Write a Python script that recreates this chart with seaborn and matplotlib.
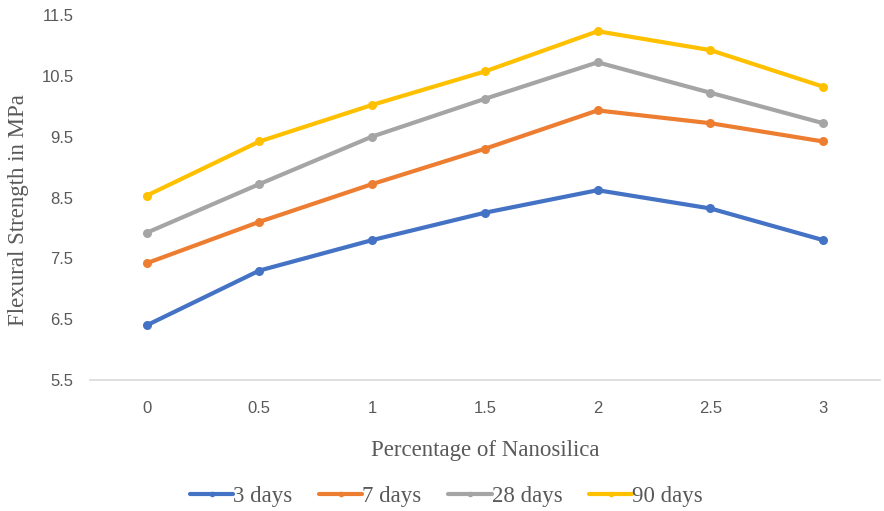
import matplotlib
matplotlib.use("Agg")
import matplotlib.pyplot as plt
import seaborn as sns
import pandas as pd

x_vals = [0, 0.5, 1, 1.5, 2, 2.5, 3]
x_labels = ["0", "0.5", "1", "1.5", "2", "2.5", "3"]
s3 = [6.4, 7.3, 7.8, 8.25, 8.62, 8.32, 7.8]
s7 = [7.42, 8.1, 8.72, 9.3, 9.93, 9.72, 9.42]
s28 = [7.92, 8.72, 9.5, 10.12, 10.72, 10.22, 9.72]
s90 = [8.53, 9.42, 10.02, 10.57, 11.23, 10.92, 10.32]
series_names = ["3 days", "7 days", "28 days", "90 days"]
colors = ["#4472C4", "#ED7D31", "#A5A5A5", "#FFC000"]
y_ticks = [5.5, 6.5, 7.5, 8.5, 9.5, 10.5, 11.5]

rows = []
for name, vals in zip(series_names, [s3, s7, s28, s90]):
    for xv, yv in zip(x_vals, vals):
        rows.append({"x": xv, "y": yv, "series": name})
df = pd.DataFrame(rows)

sns.set_theme(style="white")
plt.rcParams['font.family'] = ['DejaVu Sans']

fig = plt.figure(figsize=(8.84, 5.11), dpi=100)
ax = fig.add_axes([0.102, 0.256, 0.893, 0.715])

sns.lineplot(data=df, x="x", y="y", hue="series", palette=colors,
             hue_order=series_names, marker="o", markersize=6.5,
             markeredgewidth=0, linewidth=3, ax=ax, legend=True)

ax.set_xlim(-0.25, 3.25)
ax.set_ylim(5.5, 11.5)
ax.set_yticks(y_ticks)
ax.set_yticklabels([str(v) for v in y_ticks])
ax.set_xticks(x_vals)
ax.set_xticklabels(x_labels)

tick_font = ['Liberation Sans', 'DejaVu Sans']
for lab in ax.get_xticklabels() + ax.get_yticklabels():
    lab.set_family(tick_font)
    lab.set_fontsize(12)
    lab.set_color("#595959")
ax.tick_params(axis='both', length=0)
ax.tick_params(axis='x', pad=15)
ax.tick_params(axis='y', pad=12)

for side in ["top", "right", "left"]:
    ax.spines[side].set_visible(False)
ax.spines["bottom"].set_color("#D9D9D9")
ax.spines["bottom"].set_linewidth(1.2)

ax.set_xlabel("Percentage of Nanosilica", family=['Liberation Serif'],
              fontsize=16.5, color="#595959")
ax.set_ylabel("Flexural Strength in MPa", family=['Liberation Serif'],
              fontsize=16.5, color="#595959")
ax.xaxis.set_label_coords(0.5, -0.165)
ax.yaxis.set_label_coords(-0.078, 0.465)

handles, labels = ax.get_legend_handles_labels()
ax.legend_.remove()
leg = fig.legend(handles, labels, loc="center", bbox_to_anchor=(0.505, 0.028),
                 ncol=4, frameon=False, handlelength=1.9, handletextpad=0.0,
                 columnspacing=1.15, prop={'family': 'Liberation Serif', 'size': 16.5})
for h in leg.legend_handles:
    h.set_markersize(4)
for t in leg.get_texts():
    t.set_color("#595959")

fig.savefig("out.png", dpi=100)
